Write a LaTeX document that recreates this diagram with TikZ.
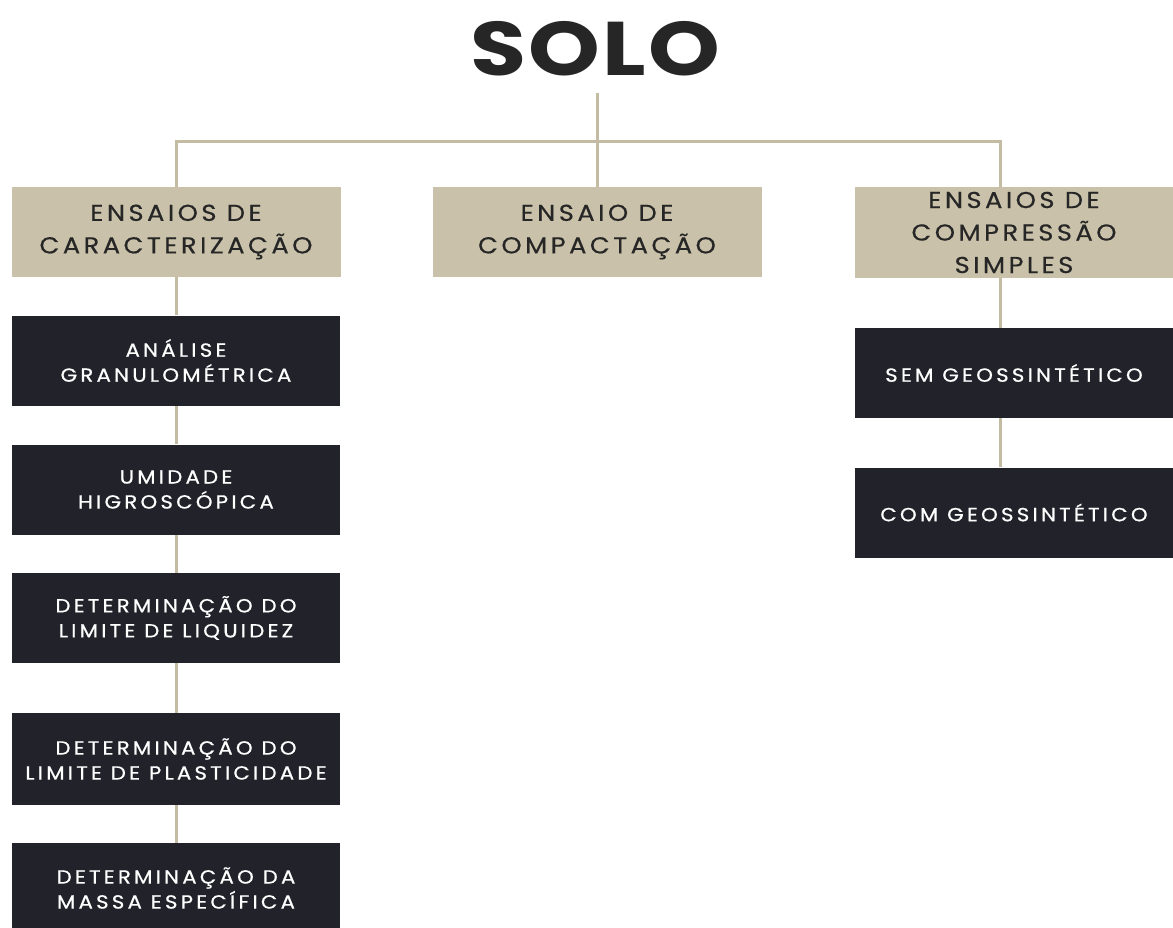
\documentclass[tikz,border=0pt]{standalone}
\usepackage{fontspec}
\setmainfont{Poppins}
\newfontfamily\tanfont{Poppins}[FakeStretch=1.12, LetterSpace=15, FakeBold=0.5]
\newfontfamily\darkfont{Poppins}[FakeStretch=1.12, LetterSpace=17, FakeBold=0.7]
\newfontfamily\titlefont{Poppins}[FakeStretch=1.2, LetterSpace=3]
\usepackage{xcolor}
\usepackage{tikz}
\usetikzlibrary{positioning, calc}

\definecolor{tanfill}{HTML}{C9C1A9}
\definecolor{darkfill}{HTML}{22232A}
\definecolor{linecol}{HTML}{C4BCA2}
\definecolor{inktext}{HTML}{262626}

\begin{document}
\begin{tikzpicture}[x=1pt, y=-1pt,
  link/.style={draw=linecol, line width=3pt},
  tanbox/.style={fill=tanfill, text=inktext, inner sep=0pt, minimum height=90pt, align=center, font=\tanfont\fontsize{23}{32.5}\selectfont},
  darkbox/.style={fill=darkfill, text=white, inner sep=0pt, minimum width=328pt, minimum height=90pt, align=center, font=\darkfont\fontsize{19}{25}\selectfont}]

\useasboundingbox (0,0) rectangle (1173,928);
\clip (0,0) rectangle (1173,928);

\node(solo)[font=\titlefont\bfseries\fontsize{76}{76}\selectfont, text=inktext, inner xsep=0pt, inner ysep=16pt] at (595,49) {SOLO};

% top row
\node (carac)[tanbox, minimum width=329pt] at (176,232) {ENSAIOS DE\\CARACTERIZAÇÃO};
\node (compac)[tanbox, minimum width=329pt] at (597,232) {ENSAIO DE\\COMPACTAÇÃO};
\node (compr)[tanbox, minimum width=318pt] at (1014,232.5) {ENSAIOS DE\\COMPRESSÃO\\SIMPLES};

% left column
\node (anal)[darkbox] at (176,360.5) {ANÁLISE\\GRANULOMÉTRICA};
\node (umid)[darkbox] at (176,489.5) {UMIDADE\\HIGROSCÓPICA};
\node (liq)[darkbox] at (176,618) {DETERMINAÇÃO DO\\LIMITE DE LIQUIDEZ};
\node (plast)[darkbox, minimum height=92pt] at (176,759) {DETERMINAÇÃO DO\\LIMITE DE PLASTICIDADE};
\node (massa)[darkbox] at (176,888) {DETERMINAÇÃO DA\\MASSA ESPECÍFICA};

% right column
\node (sem)[darkbox, minimum width=318pt] at (1014,373) {SEM GEOSSINTÉTICO};
\node (com)[darkbox, minimum width=318pt] at (1014,512.5) {COM GEOSSINTÉTICO};

\coordinate (rcol) at (1000,142);

\draw[link] (solo.south -| compac) -- (compac);
\draw[link] (carac) |- (rcol) -- (rcol |- compr.north);

\foreach \a/\b in {carac/anal, anal/umid, umid/liq, liq/plast, plast/massa}
  \draw[link] (\a) -- (\b);

\draw[link] (rcol |- compr.south) -- (rcol |- sem.north);
\draw[link] (rcol |- sem.south) -- (rcol |- com.north);
\end{tikzpicture}
\end{document}
